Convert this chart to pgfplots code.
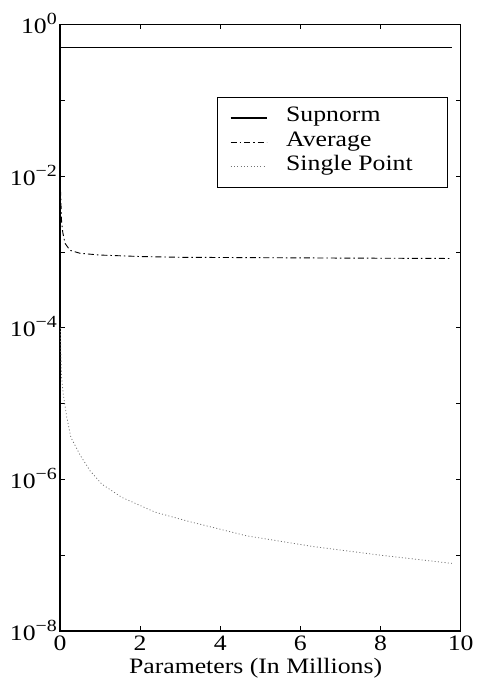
\documentclass[border=0pt]{standalone}
\usepackage{fontspec}
\setmainfont[FakeStretch=1.17]{Liberation Serif}
\usepackage{pgfplots}
\pgfplotsset{compat=1.18}
\newcommand{\bigf}{\fontsize{22bp}{26bp}\selectfont}
\newcommand{\tl}[1]{10\raisebox{9bp}{\fontsize{17bp}{17bp}\selectfont #1}}
\begin{document}
\begin{tikzpicture}[font=\bigf]
\useasboundingbox (-60bp,-57bp) rectangle (417bp,631bp);
\begin{axis}[
  at={(0,0)}, anchor=south west, scale only axis,
  width=400.7bp, height=606.5bp,
  ymode=log, xmin=0, xmax=10, ymin=1e-8, ymax=1,
  axis line style={line width=1.1bp},
  every tick/.style={line width=0.8bp, black},
  major tick length=5bp,
  tick align=inside,
  xtick={0,2,4,6,8,10},
  xticklabels={0,2,4,6,8,10},
  ytick={1e-8,1e-7,1e-6,1e-5,1e-4,1e-3,1e-2,1e-1,1},
  yticklabels={\tl{−8},,\tl{−6},,\tl{−4},,\tl{−2},,\tl{0}},
  yminorticks=false, xminorticks=false,
  every tick label/.append style={font=\bigf},
  xticklabel style={anchor=base, inner sep=0pt, yshift=-19bp},
  yticklabel style={anchor=base east, inner sep=0pt, xshift=-3bp, yshift=-9bp},
  xlabel={Parameters (In Millions)},
  xlabel style={font=\bigf, at={(axis description cs:0.488,0)}, anchor=base, inner sep=0pt, yshift=-42bp},
  legend image code/.code={\draw[#1] (0bp,0bp) -- (36bp,0bp);},
  legend style={at={(axis description cs:0.969,0.881)}, anchor=north east,
    font=\bigf,
    draw=black, line width=0.8bp, inner xsep=12.7bp, inner ysep=8.8bp,
    row sep=0bp,
    nodes={inner xsep=0pt, inner ysep=0pt, text height=16bp, text depth=8.3bp, anchor=west, font=\bigf},
    /tikz/every odd column/.append style={column sep=18.7bp}},
  legend cell align=left,
]
\addplot[black, line width=1.5bp] coordinates {(0,0.494) (9.78,0.494)};
\addlegendentry{\makebox[149bp][l]{Supnorm}}
\addplot[black, line width=0.9bp, dash pattern=on 6bp off 3bp on 1.5bp off 3bp] coordinates {
(0,1e-2) (0.02,5e-3) (0.04,2.5e-3) (0.07,1.8e-3) (0.125,1.3e-3) (0.25,1.05e-3)
(0.5,9.6e-4) (1,9.1e-4) (2,8.7e-4) (3,8.5e-4) (5,8.4e-4) (7,8.3e-4) (9.78,8.2e-4)};
\addlegendentry{\makebox[149bp][l]{Average}}
\addplot[black!55, line width=0.8bp, dash pattern=on 1bp off 2.3bp] coordinates {
(0.01,1e-4) (0.02,5e-5) (0.04,2.2e-5) (0.08,1.35e-5) (0.17,6.6e-6) (0.27,3.6e-6)
(0.5,2.1e-6) (0.75,1.3e-6) (1.04,8.7e-7) (1.54,5.8e-7) (2.37,3.7e-7) (3.2,2.8e-7)
(4.66,1.8e-7) (6.32,1.3e-7) (8,1.0e-7) (9.78,7.8e-8)};
\addlegendentry{\makebox[149bp][l]{Single Point}}
\end{axis}
\end{tikzpicture}
\end{document}
